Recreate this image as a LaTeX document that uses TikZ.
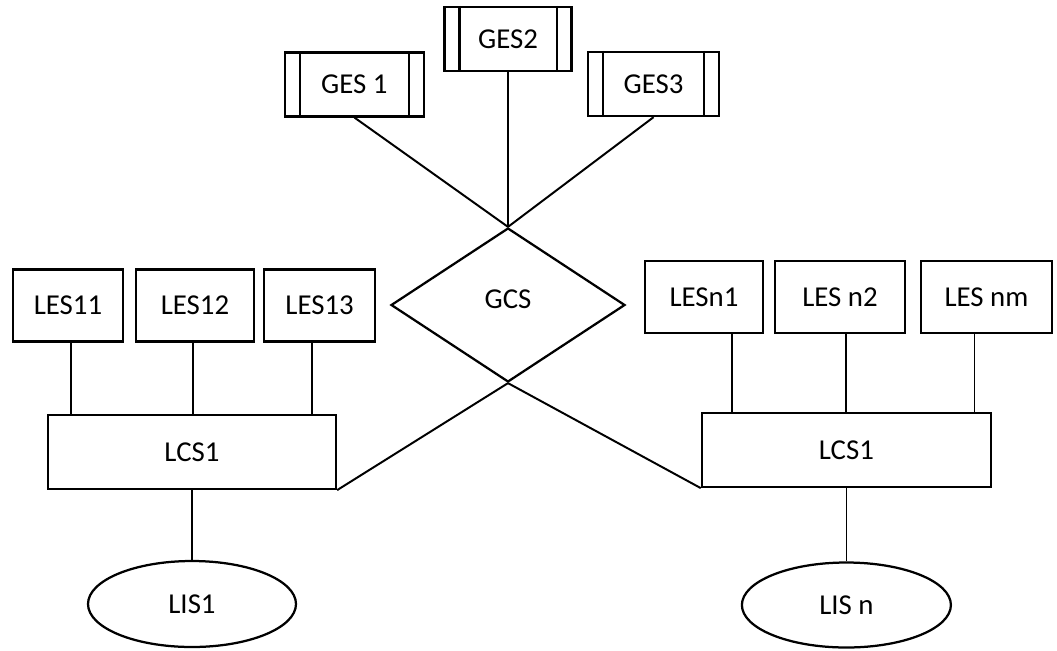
\documentclass[tikz,border=0pt]{standalone}
\usepackage{fontspec}
\setmainfont{Carlito}
\usepackage{tikz}
\tikzset{font={\fontsize{20.5pt}{24pt}\selectfont}}
\usetikzlibrary{shapes.geometric}

\begin{document}
\begin{tikzpicture}[line width=1.6pt,
    box node/.style={rectangle,draw,inner sep=0pt,minimum height=1.8cm},
    ges node/.style={box node,minimum height=1.6cm},
    cs node/.style={box node,minimum width=7.2cm,minimum height=1.85cm},
    gcs node/.style={diamond,draw,inner sep=0pt,minimum width=5.85cm,minimum height=3.85cm},
    is node/.style={ellipse,draw,inner sep=0pt,minimum width=5.2cm,minimum height=2.15cm},
    thin link/.style={line width=1.1pt}]
  \useasboundingbox (0,0) rectangle (26.425,-16.25);

  % global level
  \node[gcs node] (gcs) at (12.7,-7.625) {\raisebox{0.3cm}{GCS}};
  \node[ges node,minimum width=3.175cm] (ges2) [above of=gcs,node distance=6.65cm] {GES2};
  \node[ges node,minimum width=3.475cm] (ges1) at (8.86,-2.11) {GES 1};
  \node[ges node,minimum width=3.275cm] (ges3) at (16.34,-2.1) {GES3};

  % local site 1
  \node[box node,minimum width=2.75cm] (les11) at (1.7,-7.64) {LES11};
  \node[box node,minimum width=2.95cm] (les12) [right of=les11,node distance=3.175cm] {LES12};
  \node[box node,minimum width=2.775cm] (les13) [right of=les12,node distance=3.115cm] {LES13};
  \node[cs node] (lcsa) at (4.8,-11.3) {LCS1};
  \node[is node] (lis1) [below of=lcsa,node distance=3.8cm] {LIS1};

  % local site n
  \node[box node,minimum width=2.95cm] (lesn1) at (17.6,-7.42) {LESn1};
  \node[box node,minimum width=3.25cm] (lesn2) [right of=lesn1,node distance=3.4cm] {LES n2};
  \node[box node,minimum width=3.275cm] (lesnm) [right of=lesn2,node distance=3.66cm] {LES nm};
  \node[cs node,minimum width=7.225cm] (lcsb) at (21.16,-11.25) {LCS1};
  \node[is node,minimum width=5.225cm,minimum height=2.125cm] (lisn) [below of=lcsb,node distance=3.875cm] {LIS n};

  % side bars of the global boxes
  \foreach \g in {ges1,ges2,ges3} {
    \draw ([xshift=4mm]\g.north west) -- ([xshift=4mm]\g.south west);
    \draw ([xshift=-4mm]\g.north east) -- ([xshift=-4mm]\g.south east);
  }

  \path[line width=1.4pt]
    (ges1.south) edge (gcs.north)
    (ges2) edge (gcs.north)
    (ges3.south) edge (gcs.north)
    (lcsa.south east) edge (gcs.south)
    (lcsb.south west) edge (gcs.south);

  \foreach \s/\d/\t in {les11/0.08/lcsa,les12/-0.05/lcsa,les13/-0.19/lcsa,
                        lesn1/0.7/lcsb,lesn2/0.15/lcsb,lesnm/-0.3/lcsb}
    \draw[thin link] ([xshift=\d cm]\s.south) -- ([xshift=\d cm]\s.south |- \t.north);

  \path[thin link]
    (lcsa) edge (lis1)
    (lcsb) edge (lisn);
\end{tikzpicture}
\end{document}
